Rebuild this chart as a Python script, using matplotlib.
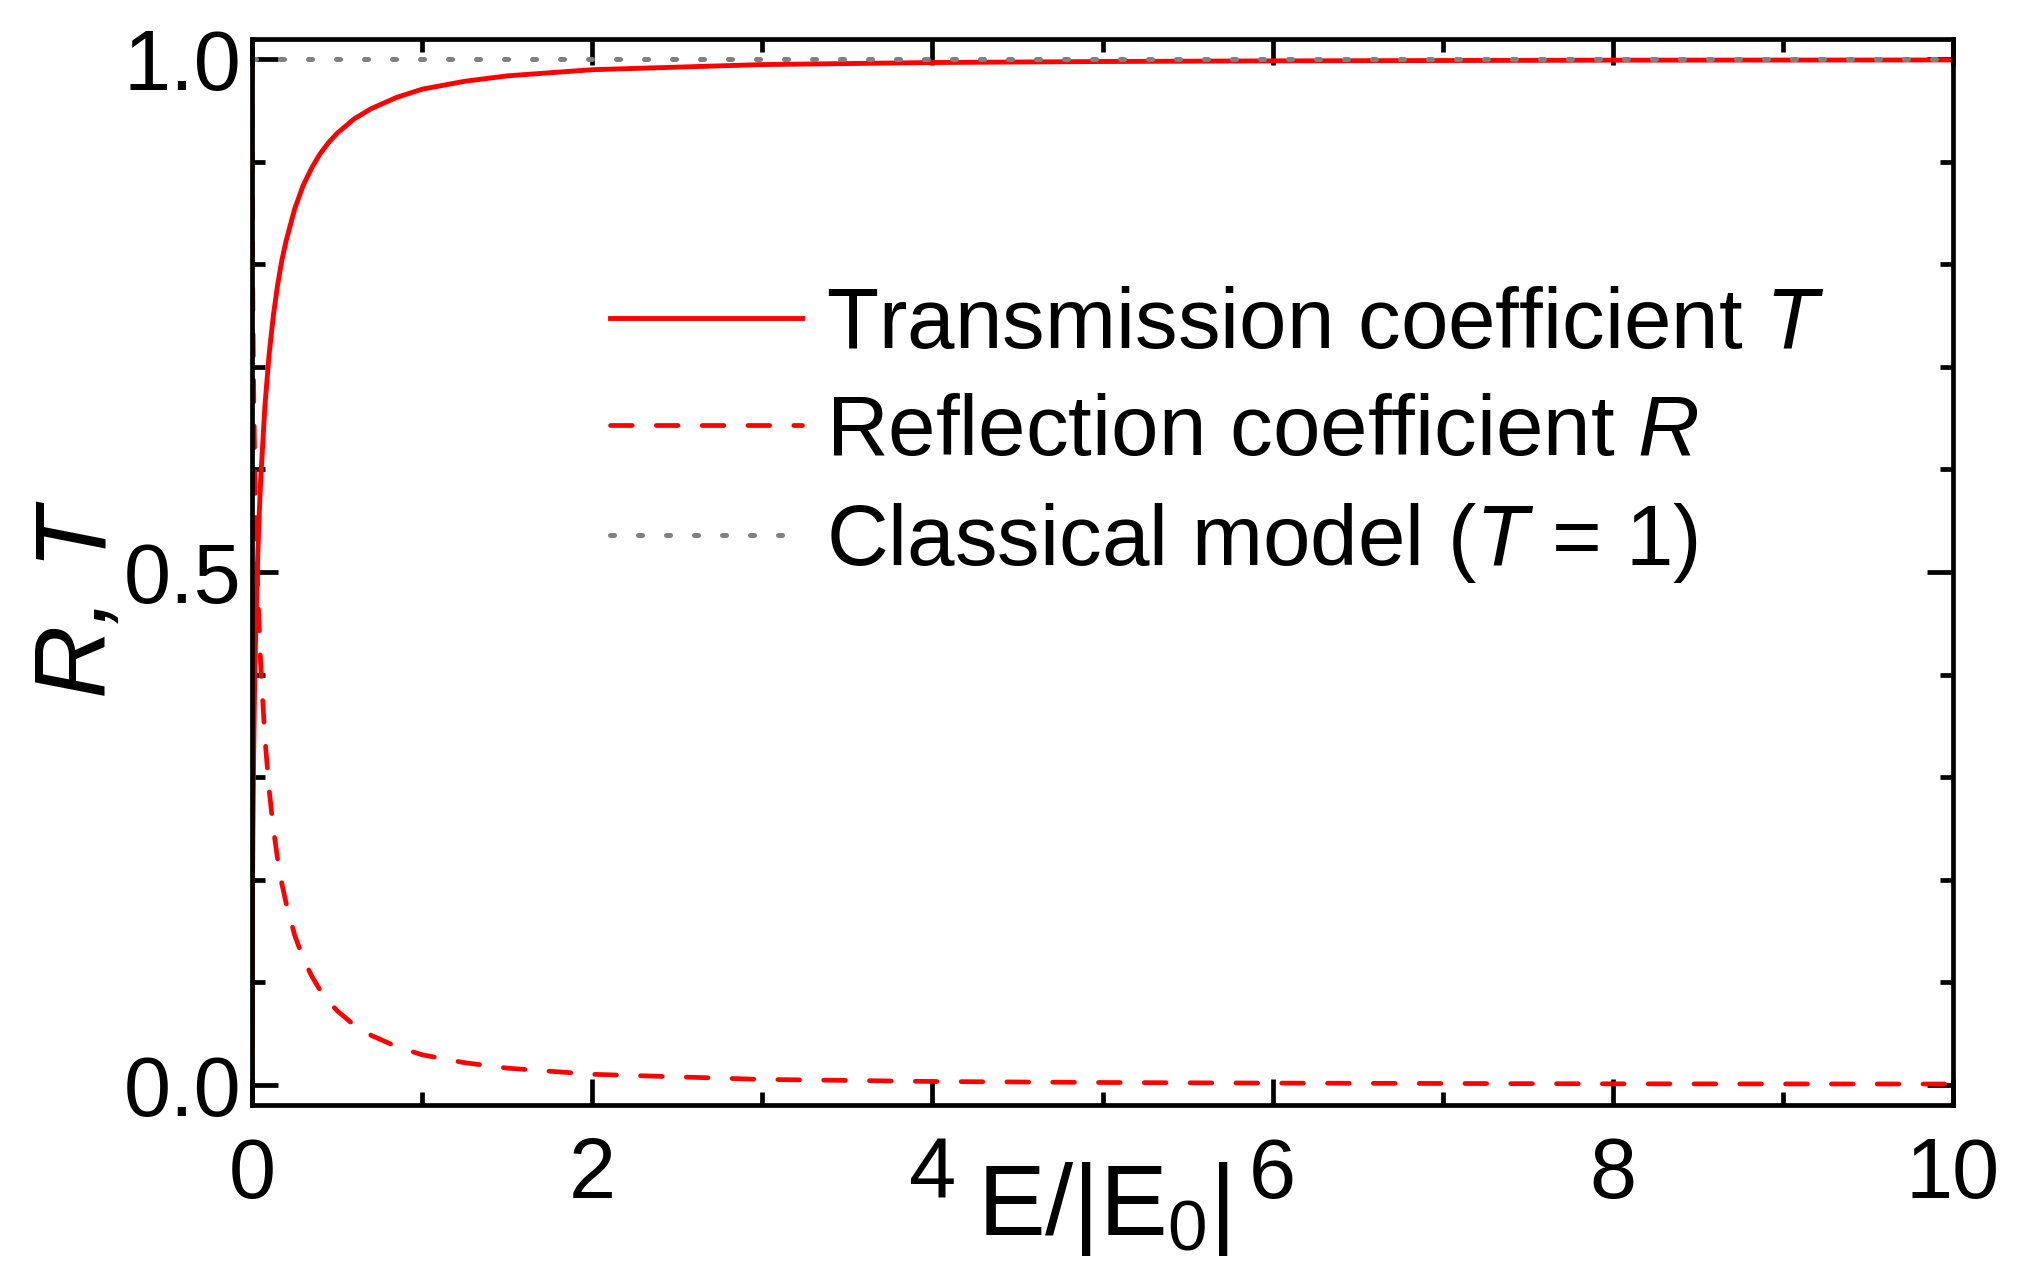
import matplotlib
matplotlib.use("Agg")
import matplotlib.pyplot as plt
from matplotlib.ticker import MultipleLocator, FormatStrFormatter

plt.rcParams['font.family'] = ['Liberation Sans', 'DejaVu Sans']
plt.rcParams['mathtext.fontset'] = 'custom'
plt.rcParams['mathtext.rm'] = 'Liberation Sans'
plt.rcParams['mathtext.it'] = 'Liberation Sans:italic'

# energy in units of |E0|
energy = [0, 0.001, 0.003, 0.005, 0.01, 0.015, 0.02, 0.03, 0.04, 0.05, 0.075, 0.1,
          0.125, 0.15, 0.175, 0.2, 0.25, 0.3, 0.35, 0.4, 0.45, 0.5, 0.6, 0.7, 0.85,
          1.0, 1.25, 1.5, 2, 3, 4, 5, 6, 8, 10]
trans = [0, 0.119, 0.197, 0.246, 0.329, 0.387, 0.431, 0.498, 0.548, 0.588, 0.661, 0.712,
         0.750, 0.780, 0.804, 0.823, 0.854, 0.877, 0.894, 0.908, 0.919, 0.928, 0.942,
         0.952, 0.963, 0.971, 0.9787, 0.984, 0.990, 0.995, 0.997, 0.998, 0.9986,
         0.9993, 0.9995]
refl = [1, 0.881, 0.803, 0.754, 0.671, 0.613, 0.569, 0.502, 0.452, 0.412, 0.339, 0.288,
        0.250, 0.220, 0.196, 0.177, 0.146, 0.123, 0.106, 0.092, 0.081, 0.072, 0.058,
        0.048, 0.037, 0.029, 0.0213, 0.016, 0.010, 0.005, 0.003, 0.002, 0.0014,
        0.0007, 0.0005]
energy_cl = [0, 10]
trans_cl = [1, 1]

fig = plt.figure(figsize=(20.23, 12.69), dpi=100)
ax = fig.add_axes([0.1246, 0.1292, 0.8408, 0.8401])

ax.plot(energy, trans, color='red', lw=3.5, label="Transmission coefficient $T$")
ax.plot(energy, refl, color='red', lw=3.4, dashes=(4.6, 5.1), dash_capstyle='round',
        label="Reflection coefficient $R$")
ax.plot(energy_cl, trans_cl, color='#808080', lw=3.6, dashes=(0.8, 4.8),
        dash_capstyle='round', label="Classical model ($T$ = 1)")

ax.set_xlim(0, 10)
ax.set_ylim(-0.02, 1.02)
ax.xaxis.set_major_locator(MultipleLocator(2))
ax.xaxis.set_minor_locator(MultipleLocator(1))
ax.yaxis.set_major_locator(MultipleLocator(0.5))
ax.yaxis.set_minor_locator(MultipleLocator(0.1))
ax.yaxis.set_major_formatter(FormatStrFormatter('%.1f'))

for s in ax.spines.values():
    s.set_linewidth(3.4)
ax.tick_params(which='both', direction='in', top=True, right=True, width=3.4,
               labelsize=61)
ax.tick_params(which='major', length=18.7)
ax.tick_params(which='minor', length=9.4)
ax.tick_params(axis='x', pad=22)
ax.tick_params(axis='y', pad=8)

ax.set_xlabel(r"$\mathrm{E/|E_0|}$", fontsize=73)
ax.xaxis.label.set_verticalalignment('baseline')
ax.xaxis.set_label_coords(0.5, -0.122)
ax.set_ylabel("R, T", fontsize=73, fontstyle='italic')
ax.yaxis.set_label_coords(-0.0735, 0.472)

ax.legend(loc='upper left', bbox_to_anchor=(610 / 2023, 0.7747),
          bbox_transform=fig.transFigure, frameon=False, fontsize=61.5,
          handlelength=2.25, handletextpad=0.28, labelspacing=0.32,
          borderpad=0, borderaxespad=0)

fig.savefig("out.png", dpi=100)
